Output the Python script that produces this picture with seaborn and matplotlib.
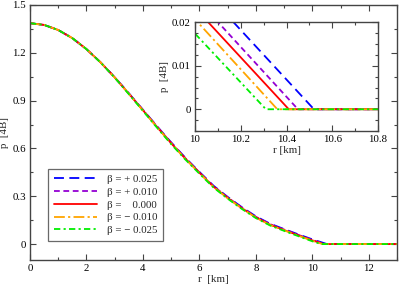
import numpy as np
import pandas as pd
import matplotlib
matplotlib.use("Agg")
import matplotlib.pyplot as plt
from matplotlib.ticker import MultipleLocator
import seaborn as sns

# ---- data ----
r_grid = [0.0, 0.5, 1.0, 1.5, 2.0, 2.5, 3.0, 3.5, 4.0, 4.5, 5.0, 5.5, 6.0,
          6.5, 7.0, 7.5, 8.0, 8.5, 9.0, 9.5, 10.0]

p_beta_p025 = [1.386, 1.375, 1.343, 1.292, 1.223, 1.140, 1.047, 0.946, 0.843, 0.739,
               0.638, 0.542, 0.453, 0.366, 0.296, 0.232, 0.174, 0.128, 0.094, 0.061, 0.0296]
p_beta_p010 = [1.386, 1.375, 1.343, 1.292, 1.223, 1.140, 1.046, 0.945, 0.841, 0.737,
               0.635, 0.539, 0.450, 0.363, 0.293, 0.229, 0.171, 0.125, 0.091, 0.058, 0.0258]
p_beta_000 = [1.386, 1.375, 1.343, 1.292, 1.223, 1.140, 1.046, 0.944, 0.840, 0.735,
              0.633, 0.537, 0.448, 0.360, 0.290, 0.226, 0.168, 0.122, 0.088, 0.055, 0.0233]
p_beta_m010 = [1.386, 1.375, 1.343, 1.292, 1.223, 1.140, 1.045, 0.943, 0.838, 0.733,
               0.631, 0.535, 0.446, 0.358, 0.288, 0.224, 0.166, 0.120, 0.086, 0.053, 0.0207]
p_beta_m025 = [1.386, 1.375, 1.343, 1.292, 1.223, 1.139, 1.044, 0.941, 0.836, 0.730,
               0.627, 0.531, 0.442, 0.355, 0.285, 0.221, 0.163, 0.117, 0.083, 0.050, 0.0174]

surface_r = [10.52, 10.45, 10.41, 10.36, 10.31]
r_end = 13.0

labels = ["β = + 0.025", "β = + 0.010", "β =    0.000", "β = − 0.010", "β = − 0.025"]
series = [p_beta_p025, p_beta_p010, p_beta_000, p_beta_m010, p_beta_m025]

x_ticks = [0, 2, 4, 6, 8, 10, 12]
y_ticks = [0, 0.3, 0.6, 0.9, 1.2, 1.5]
inset_x_ticks = [10, 10.2, 10.4, 10.6, 10.8]
inset_y_ticks = [0, 0.01, 0.02]

colors = ["#0000ff", "#9400d3", "#ff0000", "#ffa500", "#00ee00"]
dashes = {labels[0]: (5.5, 3.0), labels[1]: (3.2, 2.0), labels[2]: "",
          labels[3]: (6.0, 1.8, 1.2, 1.8), labels[4]: (3.5, 1.8, 1.2, 1.8)}

rows = []
for lab, p, rs in zip(labels, series, surface_r):
    rr = list(r_grid) + [rs, r_end]
    pp = list(p) + [0.0, 0.0]
    for a, b in zip(rr, pp):
        rows.append({"r": a, "p": b, "beta": lab})
df = pd.DataFrame(rows)

# ---- style ----
sns.set_style("ticks")
plt.rcParams["font.family"] = ["Liberation Serif", "DejaVu Serif"]
plt.rcParams["font.size"] = 7.8
edge = "#444444"

fig = plt.figure(figsize=(3.99, 2.85), dpi=100)
ax = fig.add_axes([30/399, 1-260/285, 367/399, 255/285])

palette = dict(zip(labels, colors))
sns.lineplot(data=df, x="r", y="p", hue="beta", style="beta", hue_order=labels,
             style_order=labels, palette=palette, dashes=dashes, lw=1.3,
             sort=False, estimator=None, ax=ax)

ax.set_xlim(0, 13)
ax.set_ylim(-0.1, 1.5)
ax.set_xticks(x_ticks)
ax.set_xticklabels([str(t) for t in x_ticks])
ax.set_yticks(y_ticks)
ax.set_yticklabels(["0", "0.3", "0.6", "0.9", "1.2", "1.5"])
ax.xaxis.set_minor_locator(MultipleLocator(1))
ax.yaxis.set_minor_locator(MultipleLocator(0.15))
ax.tick_params(which="both", direction="in", top=True, right=True, colors=edge,
               labelcolor="black", labelsize=7.8, pad=3)
ax.tick_params(which="major", length=4, width=0.8)
ax.tick_params(which="minor", length=2.5, width=0.8)
for s in ax.spines.values():
    s.set_color(edge)
    s.set_linewidth(1.0)
ax.set_xlabel("r  [km]", fontsize=7.8, labelpad=1)
ax.set_ylabel("p  [4B]", fontsize=7.8, labelpad=2)

leg = ax.legend(loc="lower left", bbox_to_anchor=(0.05, 0.076), borderaxespad=0,
                frameon=True, fancybox=False, edgecolor=edge, fontsize=7.8,
                handlelength=4.0, handletextpad=0.9, labelspacing=0.3,
                borderpad=0.5)
leg.get_frame().set_linewidth(0.9)
for h in leg.get_lines():
    h.set_linewidth(1.3)

# ---- inset ----
axi = fig.add_axes([195/399, 1-131/285, 183/399, 108.7/285])
sns.lineplot(data=df, x="r", y="p", hue="beta", style="beta", hue_order=labels,
             style_order=labels, palette=palette, dashes=dashes, lw=1.3,
             sort=False, estimator=None, ax=axi, legend=False)
axi.set_xlim(10, 10.8)
axi.set_ylim(-0.005, 0.02)
axi.set_xticks(inset_x_ticks)
axi.set_xticklabels(["10", "10.2", "10.4", "10.6", "10.8"])
axi.set_yticks(inset_y_ticks)
axi.set_yticklabels(["0", "0.01", "0.02"])
axi.xaxis.set_minor_locator(MultipleLocator(0.1))
axi.yaxis.set_minor_locator(MultipleLocator(0.0025))
axi.tick_params(which="both", direction="in", top=True, right=True, colors=edge,
                labelcolor="black", labelsize=7.8, pad=3)
axi.tick_params(which="major", length=4, width=0.8)
axi.tick_params(which="minor", length=2.5, width=0.8)
for s in axi.spines.values():
    s.set_color(edge)
    s.set_linewidth(1.0)
axi.set_xlabel("r [km]", fontsize=7.8, labelpad=1)
axi.set_ylabel("p  [4B]", fontsize=7.8, labelpad=2)
axi.set_facecolor("white")

fig.savefig("out.png", dpi=100)
